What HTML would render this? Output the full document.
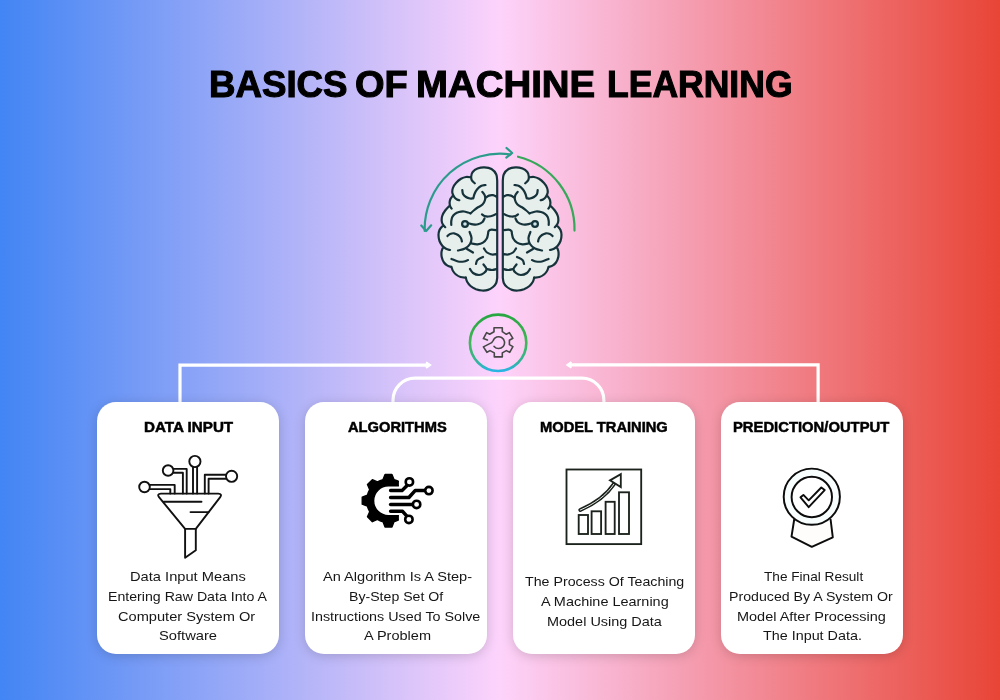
<!DOCTYPE html>
<html lang="en">
<head>
<meta charset="utf-8">
<title>Basics of Machine Learning</title>
<style>
html,body{margin:0;padding:0;}
body{width:1000px;height:700px;overflow:hidden;position:relative;
  background:linear-gradient(90deg,#4285f4 0%,#fdd3fb 50%,#e84536 100%);
  font-family:"Liberation Sans",sans-serif;color:#000;}
#stage{position:absolute;left:0;top:0;width:1000px;height:700px;overflow:hidden;}
h1,h2,p{margin:0;padding:0;position:absolute;left:0;top:0;font-size:inherit;font-weight:inherit;}
h1 span,h2 span,p span{position:absolute;display:block;white-space:nowrap;line-height:1;transform-origin:0 0;}
h1,h2{font-weight:bold;color:#000;}
h1,h2,p{will-change:transform;}
h1{-webkit-text-stroke:1.1px #000;}
h2{-webkit-text-stroke:0.5px #000;}
p{color:#161616;}
.card{position:absolute;top:402px;width:182px;height:252px;background:#fff;border-radius:19px;
  box-shadow:0 2px 12px rgba(0,0,0,0.17);}
#c1{left:97px}#c2{left:305px}#c3{left:513px}#c4{left:721px}
svg{position:absolute;left:0;top:0;overflow:visible;}
</style>
</head>
<body>
<div id="stage">
<h1><span id="w1" style="left:208.66px;top:66.01px;font-size:37.2px;transform:scaleX(0.9858)">BASICS</span> <span id="w2" style="left:354.98px;top:66.01px;font-size:37.2px;transform:scaleX(1.0210)">OF</span> <span id="w3" style="left:415.57px;top:66.01px;font-size:37.2px;transform:scaleX(1.0324)">MACHINE</span> <span id="w4" style="left:606.72px;top:66.01px;font-size:37.2px;transform:scaleX(0.9553)">LEARNING</span></h1>

<svg id="lines" width="1000" height="700" viewBox="0 0 1000 700" fill="none" stroke="#fff" stroke-width="3.2">
  <path d="M180 403V365.100H429"/>
  <path d="M426 362.300L430 365.100L426 367.900" stroke-width="2.200"/>
  <path d="M818.100 403V364.900H568.500"/>
  <path d="M571.500 362.100L567.500 364.900L571.500 367.700" stroke-width="2.200"/>
  <path d="M393 403V400.200A22 22 0 0 1 415 378.200H581.900A22 22 0 0 1 603.900 400.200V403"/>
</svg>
<svg id="top" width="1000" height="700" viewBox="0 0 1000 700">
<g fill="none" stroke-width="2.200" stroke-linecap="round" stroke-linejoin="round">
<path d="M424.7 231.0A75.3 75.3 0 0 1 510.5 154.4" stroke="#2b9c8c"/>
<path d="M421.300 225.500L426.200 231L431.200 225.300" stroke="#2b9c8c"/>
<path d="M506.500 148L512.200 153L506.300 157.600" stroke="#2b9c8c"/>
<path d="M518.0 156.7A74.5 74.5 0 0 1 574.5 230.6" stroke="#37a85a"/>
</g>
<g stroke="#16323a" stroke-width="2.200" stroke-linecap="round" stroke-linejoin="round">
<g><path d="M497.2 181.0C497.1 179.9 497.2 176.5 496.3 174.5C495.4 172.5 493.5 170.2 491.5 169.0C489.5 167.8 486.8 167.4 484.5 167.3C482.2 167.2 479.5 167.8 477.5 168.6C475.5 169.4 473.8 170.7 472.7 172.0C471.6 173.3 471.4 175.8 471.2 176.5L470.8 177.3C470.0 177.2 467.6 176.8 466.0 177.0C464.4 177.2 462.7 177.8 461.0 178.8C459.3 179.8 457.4 181.5 456.0 183.0C454.6 184.5 453.5 186.3 452.9 188.0C452.3 189.7 452.1 191.4 452.4 193.0C452.7 194.6 454.1 196.6 454.5 197.3L452.6 196.0C452.2 196.5 450.9 197.9 450.4 199.0C449.9 200.1 449.7 201.3 449.6 202.5C449.6 203.7 450.0 205.4 450.1 206.0L449.8 205.5C449.0 206.3 446.5 208.8 445.2 210.5C443.9 212.2 442.8 214.2 442.2 216.0C441.6 217.8 441.6 219.6 441.7 221.0C441.8 222.4 442.7 223.9 442.9 224.5L442.3 226.3C441.8 226.9 440.1 228.6 439.5 230.0C438.9 231.4 438.5 233.2 438.5 235.0C438.5 236.8 438.8 239.2 439.5 241.0C440.2 242.8 442.0 245.2 442.5 246.0L442.6 248.3C442.4 248.9 441.6 250.6 441.5 252.0C441.4 253.4 441.3 255.2 441.7 257.0C442.1 258.8 443.0 261.1 444.0 262.5C445.0 263.9 446.2 264.9 447.5 265.6C448.8 266.4 450.8 266.8 451.5 267.0L451.5 267.0C451.8 267.7 452.2 269.8 453.0 271.0C453.8 272.2 454.8 273.5 456.0 274.5C457.2 275.5 458.9 276.5 460.5 277.0C462.1 277.5 464.8 277.5 465.6 277.6L465.8 277.3C466.0 278.0 466.2 280.1 467.0 281.5C467.8 282.9 469.0 284.7 470.5 286.0C472.0 287.3 474.1 288.4 476.0 289.2C477.9 289.9 480.0 290.4 482.0 290.5C484.0 290.6 486.2 290.5 488.0 289.9C489.8 289.3 491.6 288.1 493.0 287.0C494.4 285.9 495.5 284.5 496.2 283.0C496.9 281.5 497.0 278.8 497.2 278.0Z" fill="#e6efec" stroke="none"/>
<path d="M497.2 181.0C497.1 179.9 497.2 176.5 496.3 174.5C495.4 172.5 493.5 170.2 491.5 169.0C489.5 167.8 486.8 167.4 484.5 167.3C482.2 167.2 479.5 167.8 477.5 168.6C475.5 169.4 473.8 170.7 472.7 172.0C471.6 173.3 471.3 175.1 471.2 176.5C471.1 177.9 471.2 179.2 471.8 180.3C472.4 181.4 474.3 182.8 474.8 183.3M470.8 177.3C470.0 177.2 467.6 176.8 466.0 177.0C464.4 177.2 462.7 177.8 461.0 178.8C459.3 179.8 457.4 181.5 456.0 183.0C454.6 184.5 453.5 186.3 452.9 188.0C452.3 189.7 452.1 191.4 452.4 193.0C452.7 194.6 453.7 196.2 454.5 197.3C455.3 198.4 456.2 199.0 457.0 199.5C457.8 200.0 458.9 200.1 459.3 200.2M452.6 196.0C452.2 196.5 450.9 197.9 450.4 199.0C449.9 200.1 449.7 201.3 449.6 202.5C449.6 203.7 449.8 205.0 450.1 206.0C450.4 207.0 451.4 208.2 451.6 208.6M449.8 205.5C449.0 206.3 446.5 208.8 445.2 210.5C443.9 212.2 442.8 214.2 442.2 216.0C441.6 217.8 441.6 219.6 441.7 221.0C441.8 222.4 442.3 223.5 442.9 224.5C443.5 225.5 444.8 226.8 445.2 227.2M442.3 226.3C441.8 226.9 440.1 228.6 439.5 230.0C438.9 231.4 438.5 233.2 438.5 235.0C438.5 236.8 438.8 239.2 439.5 241.0C440.2 242.8 441.4 244.7 442.5 246.0C443.6 247.3 444.8 248.1 446.0 248.8C447.2 249.5 449.3 249.8 450.0 250.0M442.6 248.3C442.4 248.9 441.6 250.6 441.5 252.0C441.4 253.4 441.3 255.2 441.7 257.0C442.1 258.8 443.0 261.1 444.0 262.5C445.0 263.9 446.2 264.9 447.5 265.6C448.8 266.4 450.8 266.8 451.5 267.0M451.5 267.0C451.8 267.7 452.2 269.8 453.0 271.0C453.8 272.2 454.8 273.5 456.0 274.5C457.2 275.5 458.9 276.5 460.5 277.0C462.1 277.5 464.8 277.5 465.6 277.6M465.8 277.3C466.0 278.0 466.2 280.1 467.0 281.5C467.8 282.9 469.0 284.7 470.5 286.0C472.0 287.3 474.1 288.4 476.0 289.2C477.9 289.9 480.0 290.4 482.0 290.5C484.0 290.6 486.2 290.5 488.0 289.9C489.8 289.3 491.6 288.1 493.0 287.0C494.4 285.9 495.5 284.5 496.2 283.0C496.9 281.5 497.0 278.8 497.2 278.0M497.2 181V278M485.5 185.0C484.8 185.2 482.4 185.2 481.0 186.0C479.6 186.8 478.1 188.2 477.0 189.5C475.9 190.8 475.1 192.5 474.5 194.0C473.9 195.5 473.5 197.6 473.3 198.3M462.3 190.0C462.4 190.7 462.4 192.8 463.0 194.0C463.6 195.2 464.8 196.2 466.0 197.0C467.2 197.8 468.8 198.3 470.0 198.5C471.2 198.7 472.8 198.3 473.3 198.3M482.3 191.8C482.7 192.4 484.4 194.1 484.8 195.5C485.2 196.9 485.4 198.5 485.0 200.0C484.6 201.5 483.7 203.3 482.5 204.5C481.3 205.7 479.4 206.4 478.0 207.3C476.6 208.2 475.6 209.0 474.3 210.0C473.1 211.0 471.1 212.9 470.5 213.5M451.3 225.0C451.3 224.3 451.1 222.3 451.3 221.0C451.5 219.7 451.7 218.2 452.3 217.0C452.9 215.8 453.9 214.6 455.0 213.8C456.1 213.0 457.5 212.4 459.0 212.0C460.5 211.6 462.5 211.4 464.0 211.5C465.5 211.6 466.9 212.2 468.0 212.5C469.1 212.8 470.1 213.3 470.5 213.5M497.0 197.0C496.3 196.7 494.3 195.4 493.0 195.2C491.7 195.0 490.3 195.1 489.0 195.6C487.7 196.1 485.9 197.6 485.3 198.0M497.0 213.5C496.3 213.8 494.4 215.0 493.0 215.5C491.6 216.0 489.9 216.4 488.5 216.5C487.1 216.6 485.6 216.4 484.5 216.0C483.4 215.6 482.4 214.6 482.0 214.3M484.5 218.5C484.2 219.1 483.6 221.0 482.5 222.0C481.4 223.0 479.6 223.9 478.0 224.3C476.4 224.7 474.6 224.6 473.0 224.4C471.4 224.2 469.2 223.4 468.4 223.2M447.5 236.0C447.9 235.7 448.9 234.4 450.0 234.0C451.1 233.6 452.7 233.1 454.0 233.3C455.3 233.5 456.8 234.2 458.0 235.0C459.2 235.8 460.4 237.1 461.0 238.2C461.6 239.3 461.8 240.9 461.9 241.5M469.6 232.0C469.9 233.0 471.4 236.0 471.5 238.0C471.6 240.0 471.1 242.2 470.0 244.0C468.9 245.8 467.0 247.4 465.0 248.5C463.0 249.6 459.2 250.2 458.0 250.5M471.5 243.5C472.5 243.7 475.6 244.6 477.5 244.4C479.4 244.2 481.4 243.6 483.0 242.6C484.6 241.6 486.0 239.9 486.8 238.5C487.6 237.1 487.7 235.2 488.0 234.0C488.3 232.8 488.0 231.7 488.6 231.0C489.2 230.3 490.1 229.8 491.5 229.7C492.9 229.6 496.1 230.2 497.0 230.3M467.0 249.0L473.0 252.5M484.0 248.5C484.5 249.2 485.7 251.5 487.0 252.5C488.3 253.5 490.3 254.2 492.0 254.5C493.7 254.8 496.2 254.1 497.0 254.0M451.5 259.0C452.6 259.4 455.9 261.1 458.0 261.5C460.1 261.9 462.3 261.8 464.0 261.5C465.7 261.2 467.3 260.2 468.0 260.0M476.0 264.0C476.2 263.3 476.3 261.2 477.5 260.0C478.7 258.8 482.1 257.5 483.0 257.0M470.0 269.0C470.5 269.7 471.5 272.0 473.0 273.0C474.5 274.0 477.2 275.0 479.0 275.0C480.8 275.0 482.8 274.0 484.0 273.0C485.2 272.0 486.6 270.4 486.5 269.0C486.4 267.6 484.0 265.2 483.5 264.5M486.5 269.0C487.4 269.2 490.2 270.0 492.0 270.0C493.8 270.0 496.2 269.2 497.0 269.0" fill="none"/>
<circle cx="465" cy="224" r="2.9" fill="#cfe6ea"/>
</g>
<g transform="translate(1000,0) scale(-1,1)"><path d="M497.2 181.0C497.1 179.9 497.2 176.5 496.3 174.5C495.4 172.5 493.5 170.2 491.5 169.0C489.5 167.8 486.8 167.4 484.5 167.3C482.2 167.2 479.5 167.8 477.5 168.6C475.5 169.4 473.8 170.7 472.7 172.0C471.6 173.3 471.4 175.8 471.2 176.5L470.8 177.3C470.0 177.2 467.6 176.8 466.0 177.0C464.4 177.2 462.7 177.8 461.0 178.8C459.3 179.8 457.4 181.5 456.0 183.0C454.6 184.5 453.5 186.3 452.9 188.0C452.3 189.7 452.1 191.4 452.4 193.0C452.7 194.6 454.1 196.6 454.5 197.3L452.6 196.0C452.2 196.5 450.9 197.9 450.4 199.0C449.9 200.1 449.7 201.3 449.6 202.5C449.6 203.7 450.0 205.4 450.1 206.0L449.8 205.5C449.0 206.3 446.5 208.8 445.2 210.5C443.9 212.2 442.8 214.2 442.2 216.0C441.6 217.8 441.6 219.6 441.7 221.0C441.8 222.4 442.7 223.9 442.9 224.5L442.3 226.3C441.8 226.9 440.1 228.6 439.5 230.0C438.9 231.4 438.5 233.2 438.5 235.0C438.5 236.8 438.8 239.2 439.5 241.0C440.2 242.8 442.0 245.2 442.5 246.0L442.6 248.3C442.4 248.9 441.6 250.6 441.5 252.0C441.4 253.4 441.3 255.2 441.7 257.0C442.1 258.8 443.0 261.1 444.0 262.5C445.0 263.9 446.2 264.9 447.5 265.6C448.8 266.4 450.8 266.8 451.5 267.0L451.5 267.0C451.8 267.7 452.2 269.8 453.0 271.0C453.8 272.2 454.8 273.5 456.0 274.5C457.2 275.5 458.9 276.5 460.5 277.0C462.1 277.5 464.8 277.5 465.6 277.6L465.8 277.3C466.0 278.0 466.2 280.1 467.0 281.5C467.8 282.9 469.0 284.7 470.5 286.0C472.0 287.3 474.1 288.4 476.0 289.2C477.9 289.9 480.0 290.4 482.0 290.5C484.0 290.6 486.2 290.5 488.0 289.9C489.8 289.3 491.6 288.1 493.0 287.0C494.4 285.9 495.5 284.5 496.2 283.0C496.9 281.5 497.0 278.8 497.2 278.0Z" fill="#e6efec" stroke="none"/>
<path d="M497.2 181.0C497.1 179.9 497.2 176.5 496.3 174.5C495.4 172.5 493.5 170.2 491.5 169.0C489.5 167.8 486.8 167.4 484.5 167.3C482.2 167.2 479.5 167.8 477.5 168.6C475.5 169.4 473.8 170.7 472.7 172.0C471.6 173.3 471.3 175.1 471.2 176.5C471.1 177.9 471.2 179.2 471.8 180.3C472.4 181.4 474.3 182.8 474.8 183.3M470.8 177.3C470.0 177.2 467.6 176.8 466.0 177.0C464.4 177.2 462.7 177.8 461.0 178.8C459.3 179.8 457.4 181.5 456.0 183.0C454.6 184.5 453.5 186.3 452.9 188.0C452.3 189.7 452.1 191.4 452.4 193.0C452.7 194.6 453.7 196.2 454.5 197.3C455.3 198.4 456.2 199.0 457.0 199.5C457.8 200.0 458.9 200.1 459.3 200.2M452.6 196.0C452.2 196.5 450.9 197.9 450.4 199.0C449.9 200.1 449.7 201.3 449.6 202.5C449.6 203.7 449.8 205.0 450.1 206.0C450.4 207.0 451.4 208.2 451.6 208.6M449.8 205.5C449.0 206.3 446.5 208.8 445.2 210.5C443.9 212.2 442.8 214.2 442.2 216.0C441.6 217.8 441.6 219.6 441.7 221.0C441.8 222.4 442.3 223.5 442.9 224.5C443.5 225.5 444.8 226.8 445.2 227.2M442.3 226.3C441.8 226.9 440.1 228.6 439.5 230.0C438.9 231.4 438.5 233.2 438.5 235.0C438.5 236.8 438.8 239.2 439.5 241.0C440.2 242.8 441.4 244.7 442.5 246.0C443.6 247.3 444.8 248.1 446.0 248.8C447.2 249.5 449.3 249.8 450.0 250.0M442.6 248.3C442.4 248.9 441.6 250.6 441.5 252.0C441.4 253.4 441.3 255.2 441.7 257.0C442.1 258.8 443.0 261.1 444.0 262.5C445.0 263.9 446.2 264.9 447.5 265.6C448.8 266.4 450.8 266.8 451.5 267.0M451.5 267.0C451.8 267.7 452.2 269.8 453.0 271.0C453.8 272.2 454.8 273.5 456.0 274.5C457.2 275.5 458.9 276.5 460.5 277.0C462.1 277.5 464.8 277.5 465.6 277.6M465.8 277.3C466.0 278.0 466.2 280.1 467.0 281.5C467.8 282.9 469.0 284.7 470.5 286.0C472.0 287.3 474.1 288.4 476.0 289.2C477.9 289.9 480.0 290.4 482.0 290.5C484.0 290.6 486.2 290.5 488.0 289.9C489.8 289.3 491.6 288.1 493.0 287.0C494.4 285.9 495.5 284.5 496.2 283.0C496.9 281.5 497.0 278.8 497.2 278.0M497.2 181V278M485.5 185.0C484.8 185.2 482.4 185.2 481.0 186.0C479.6 186.8 478.1 188.2 477.0 189.5C475.9 190.8 475.1 192.5 474.5 194.0C473.9 195.5 473.5 197.6 473.3 198.3M462.3 190.0C462.4 190.7 462.4 192.8 463.0 194.0C463.6 195.2 464.8 196.2 466.0 197.0C467.2 197.8 468.8 198.3 470.0 198.5C471.2 198.7 472.8 198.3 473.3 198.3M482.3 191.8C482.7 192.4 484.4 194.1 484.8 195.5C485.2 196.9 485.4 198.5 485.0 200.0C484.6 201.5 483.7 203.3 482.5 204.5C481.3 205.7 479.4 206.4 478.0 207.3C476.6 208.2 475.6 209.0 474.3 210.0C473.1 211.0 471.1 212.9 470.5 213.5M451.3 225.0C451.3 224.3 451.1 222.3 451.3 221.0C451.5 219.7 451.7 218.2 452.3 217.0C452.9 215.8 453.9 214.6 455.0 213.8C456.1 213.0 457.5 212.4 459.0 212.0C460.5 211.6 462.5 211.4 464.0 211.5C465.5 211.6 466.9 212.2 468.0 212.5C469.1 212.8 470.1 213.3 470.5 213.5M497.0 197.0C496.3 196.7 494.3 195.4 493.0 195.2C491.7 195.0 490.3 195.1 489.0 195.6C487.7 196.1 485.9 197.6 485.3 198.0M497.0 213.5C496.3 213.8 494.4 215.0 493.0 215.5C491.6 216.0 489.9 216.4 488.5 216.5C487.1 216.6 485.6 216.4 484.5 216.0C483.4 215.6 482.4 214.6 482.0 214.3M484.5 218.5C484.2 219.1 483.6 221.0 482.5 222.0C481.4 223.0 479.6 223.9 478.0 224.3C476.4 224.7 474.6 224.6 473.0 224.4C471.4 224.2 469.2 223.4 468.4 223.2M447.5 236.0C447.9 235.7 448.9 234.4 450.0 234.0C451.1 233.6 452.7 233.1 454.0 233.3C455.3 233.5 456.8 234.2 458.0 235.0C459.2 235.8 460.4 237.1 461.0 238.2C461.6 239.3 461.8 240.9 461.9 241.5M469.6 232.0C469.9 233.0 471.4 236.0 471.5 238.0C471.6 240.0 471.1 242.2 470.0 244.0C468.9 245.8 467.0 247.4 465.0 248.5C463.0 249.6 459.2 250.2 458.0 250.5M471.5 243.5C472.5 243.7 475.6 244.6 477.5 244.4C479.4 244.2 481.4 243.6 483.0 242.6C484.6 241.6 486.0 239.9 486.8 238.5C487.6 237.1 487.7 235.2 488.0 234.0C488.3 232.8 488.0 231.7 488.6 231.0C489.2 230.3 490.1 229.8 491.5 229.7C492.9 229.6 496.1 230.2 497.0 230.3M467.0 249.0L473.0 252.5M484.0 248.5C484.5 249.2 485.7 251.5 487.0 252.5C488.3 253.5 490.3 254.2 492.0 254.5C493.7 254.8 496.2 254.1 497.0 254.0M451.5 259.0C452.6 259.4 455.9 261.1 458.0 261.5C460.1 261.9 462.3 261.8 464.0 261.5C465.7 261.2 467.3 260.2 468.0 260.0M476.0 264.0C476.2 263.3 476.3 261.2 477.5 260.0C478.7 258.8 482.1 257.5 483.0 257.0M470.0 269.0C470.5 269.7 471.5 272.0 473.0 273.0C474.5 274.0 477.2 275.0 479.0 275.0C480.8 275.0 482.8 274.0 484.0 273.0C485.2 272.0 486.6 270.4 486.5 269.0C486.4 267.6 484.0 265.2 483.5 264.5M486.5 269.0C487.4 269.2 490.2 270.0 492.0 270.0C493.8 270.0 496.2 269.2 497.0 269.0" fill="none"/>
<circle cx="465" cy="224" r="2.9" fill="#cfe6ea"/>
</g>
</g>
<defs><linearGradient id="gc" x1="0" y1="0" x2="0" y2="1"><stop offset="0" stop-color="#27a642"/><stop offset="0.5" stop-color="#40b856"/><stop offset="0.82" stop-color="#33b596"/><stop offset="1" stop-color="#2ab4e4"/></linearGradient></defs>
<circle cx="498.100" cy="342.800" r="28.200" fill="none" stroke="url(#gc)" stroke-width="2.600"/>
<path d="M487.4 340.0L483.4 338.6L486.6 332.6L489.7 334.3L494.0 331.7L494.0 327.7L502.3 327.7L502.3 331.7L506.3 334.3L509.4 332.6L512.9 338.3L509.4 340.3L509.4 344.6L512.9 346.6L509.7 352.3L506.3 350.6L502.3 352.9L502.3 356.9L494.3 356.9L494.3 352.9L490.0 350.6L486.9 352.3L483.4 346.9L491.7 342.6L493.1 340.6A5.9 5.9 0 1 1 494.1 346.4" fill="none" stroke="#474747" stroke-width="1.600" stroke-linejoin="round" stroke-linecap="round"/>
</svg>


<div class="card" id="c1">
  <h2><span id="t1" style="left:46.52px;top:17.73px;font-size:14.5px;transform:scaleX(1.0471)">DATA INPUT</span></h2>
  <svg width="182" height="252" viewBox="97 402 182 252">
<g fill="none" stroke="#111" stroke-width="1.900" stroke-linejoin="round" stroke-linecap="round">
<path d="M161 493.600H218.200Q222.600 493.800 220.200 497.200L195.800 528.900H185.100L159 497.200Q156.600 493.800 161 493.600Z"/>
<path d="M185.100 528.900V557.700L195.800 550.300V528.900"/>
<path d="M163.700 501.800H201.500M190.500 512.100H208.600"/>
<path d="M150 484.900H174.700V493.600M150 489.100H170.300V493.600"/>
<path d="M173.600 468.900H186.700V493.600M173.600 472.700H182.900V493.600"/>
<path d="M193 467.300V493.600M197.100 467.300V493.600"/>
<path d="M225.800 474.700H204.800V493.600M225.800 478.800H208.600V493.600"/>
<circle cx="144.500" cy="487" r="5.300" fill="#fff"/><circle cx="168.100" cy="470.500" r="5.300" fill="#fff"/><circle cx="194.900" cy="461.500" r="5.600" fill="#fff"/><circle cx="231.600" cy="476.300" r="5.600" fill="#fff"/>
</g>
</svg>
  <p><span id="c1l1" style="left:32.68px;top:168.09px;font-size:13.6px;transform:scaleX(1.0793)">Data Input Means</span> <span id="c1l2" style="left:10.86px;top:187.89px;font-size:13.6px;transform:scaleX(1.0411)">Entering Raw Data Into A</span> <span id="c1l3" style="left:21.47px;top:207.69px;font-size:13.6px;transform:scaleX(1.0748)">Computer System Or</span> <span id="c1l4" style="left:61.60px;top:227.49px;font-size:13.6px;transform:scaleX(1.0815)">Software</span></p>
</div>
<div class="card" id="c2">
  <h2><span id="t2" style="left:42.55px;top:17.73px;font-size:14.5px;transform:scaleX(1.0127)">ALGORITHMS</span></h2>
  <svg width="182" height="252" viewBox="305 402 182 252">
<defs><clipPath id="hg"><rect x="355" y="468" width="43.900" height="66" rx="1.500"/></clipPath></defs>
<path d="M393.96 479.59L391.96 474.43L385.04 474.43L383.04 479.59A21.8 21.8 0 0 0 377.44 481.92L372.37 479.68L367.48 484.57L369.72 489.64A21.8 21.8 0 0 0 367.39 495.24L362.23 497.24L362.23 504.16L367.39 506.16A21.8 21.8 0 0 0 369.72 511.76L367.48 516.83L372.37 521.72L377.44 519.48A21.8 21.8 0 0 0 383.04 521.81L385.04 526.97L391.96 526.97L393.96 521.81A21.8 21.8 0 0 0 399.56 519.48L404.63 521.72L409.52 516.83L407.28 511.76A21.8 21.8 0 0 0 409.61 506.16L414.77 504.16L414.77 497.24L409.61 495.24A21.8 21.8 0 0 0 407.28 489.64L409.52 484.57L404.63 479.68L399.56 481.92A21.8 21.8 0 0 0 393.96 479.59ZM388.50 485.80H420V515.60H388.50A14.9 14.9 0 0 1 388.50 485.80Z" fill="#000" fill-rule="evenodd" stroke="#000" stroke-width="1.400" stroke-linejoin="round" clip-path="url(#hg)"/>
<g fill="none" stroke="#000" stroke-width="3.500" stroke-linejoin="round" stroke-linecap="round">
<path d="M390.600 490.600H402L406.800 485.700"/>
<path d="M390.600 497.500H408.900L415.100 490.600H424.800"/>
<path d="M390.600 504.400H412.300"/>
<path d="M390.600 511.300H402.600L406.600 515.800"/>
</g>
<g fill="#fff" stroke="#000" stroke-width="2.600">
<circle cx="409.400" cy="481.900" r="3.700"/><circle cx="428.900" cy="490.600" r="3.700"/><circle cx="416.600" cy="504.400" r="3.700"/><circle cx="408.900" cy="519.400" r="3.700"/>
</g>
</svg>
  <p><span id="c2l1" style="left:17.66px;top:168.09px;font-size:13.6px;transform:scaleX(1.0719)">An Algorithm Is A Step-</span> <span id="c2l2" style="left:44.37px;top:187.89px;font-size:13.6px;transform:scaleX(1.0393)">By-Step Set Of</span> <span id="c2l3" style="left:6.46px;top:207.69px;font-size:13.6px;transform:scaleX(1.0538)">Instructions Used To Solve</span> <span id="c2l4" style="left:59.16px;top:227.49px;font-size:13.6px;transform:scaleX(1.0681)">A Problem</span></p>
</div>
<div class="card" id="c3">
  <h2><span id="t3" style="left:27.15px;top:17.73px;font-size:14.5px;transform:scaleX(1.0124)">MODEL TRAINING</span></h2>
  <svg width="182" height="252" viewBox="513 402 182 252">
<g fill="none" stroke="#1b221c" stroke-width="1.850" stroke-linejoin="miter">
<rect x="566.500" y="469.500" width="74.700" height="74.600"/>
<rect x="578.700" y="515" width="9.300" height="19"/><rect x="591.600" y="511.300" width="9.500" height="22.700"/><rect x="605.600" y="501.800" width="9.100" height="32.200"/><rect x="619" y="492.300" width="10" height="41.700"/>
</g>
<path d="M580.300 510C594 504 606 496 614 484" fill="none" stroke="#1b221c" stroke-width="4" stroke-linecap="round"/>
<path d="M580.300 510C594 504 606 496 614 484" fill="none" stroke="#fff" stroke-width="0.900" stroke-linecap="round"/>
<path d="M610 480.400L620.800 474.200L620.800 487.100Z" fill="#fff" stroke="#1b221c" stroke-width="1.850" stroke-linejoin="miter"/>
</svg>
  <p><span id="c3l1" style="left:12.44px;top:172.99px;font-size:13.6px;transform:scaleX(1.0451)">The Process Of Teaching</span> <span id="c3l2" style="left:28.45px;top:192.79px;font-size:13.6px;transform:scaleX(1.0624)">A Machine Learning</span> <span id="c3l3" style="left:34.01px;top:212.59px;font-size:13.6px;transform:scaleX(1.0634)">Model Using Data</span></p>
</div>
<div class="card" id="c4">
  <h2><span id="t4" style="left:12.23px;top:17.73px;font-size:14.5px;transform:scaleX(1.0207)">PREDICTION/OUTPUT</span></h2>
  <svg width="182" height="252" viewBox="721 402 182 252">
<g fill="none" stroke="#0c0c0c" stroke-width="1.950" stroke-linejoin="round" stroke-linecap="round">
<path d="M794.200 519.500L791.500 536.700L811.800 546.800L832.800 537.300L830.600 519.500" fill="#fefdfb"/>
<circle cx="811.800" cy="496.700" r="28.100" fill="#f8fdfd"/>
<circle cx="811.800" cy="497" r="20.200" fill="#fff"/>
<path d="M800.500 497.300L803.400 494.900L808.700 500.300L821.300 487.500L824.700 490.100L808.700 507.200Z" stroke-width="1.900"/>
</g>
</svg>
  <p><span id="c4l1" style="left:43.49px;top:168.09px;font-size:13.6px;transform:scaleX(1.0019)">The Final Result</span> <span id="c4l2" style="left:8.37px;top:187.89px;font-size:13.6px;transform:scaleX(1.0424)">Produced By A System Or</span> <span id="c4l3" style="left:16.36px;top:207.69px;font-size:13.6px;transform:scaleX(1.0652)">Model After Processing</span> <span id="c4l4" style="left:42.42px;top:227.49px;font-size:13.6px;transform:scaleX(1.0552)">The Input Data.</span></p>
</div>

</div>
</body>
</html>
